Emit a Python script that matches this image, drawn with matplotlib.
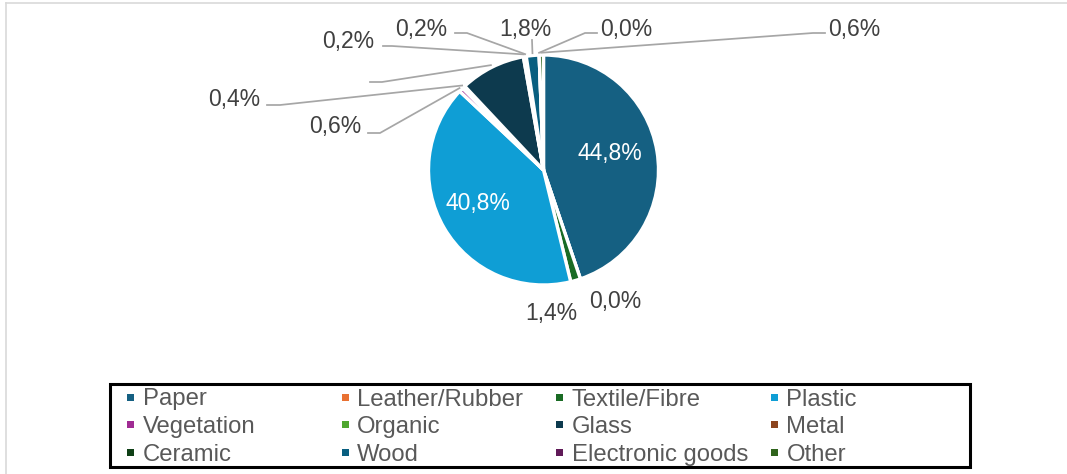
# waste composition pie, Excel-style layout
import matplotlib
matplotlib.use('Agg')
import numpy as np
import matplotlib.pyplot as plt
from matplotlib.patches import Rectangle

plt.rcParams['font.family'] = ['Liberation Sans', 'DejaVu Sans']

W, H = 1067, 474

categories = ['Paper', 'Leather/Rubber', 'Textile/Fibre', 'Plastic',
              'Vegetation', 'Organic', 'Glass', 'Metal',
              'Ceramic', 'Wood', 'Electronic goods', 'Other']
shares = [44.8, 0.0, 1.4, 40.8, 0.6, 0.4, 9.2, 0.2, 0.2, 1.8, 0.0, 0.6]
show_label = [True, True, True, True, True, True, False, True, True, True, True, True]
colors = ['#156082', '#E97132', '#196B24', '#0F9ED5', '#A02B93', '#4EA72E',
          '#0D3A4E', '#8C441E', '#0F4016', '#095F80', '#601A58', '#2F641C']

# label placement in image pixels (x centre, baseline), leader start + elbow
label_pos = [(609.5, 160), (615, 308), (551.5, 320), (477.5, 210),
             (335, 133), (234.5, 106), (None, None), (348.5, 47.5),
             (421, 35.5), (525, 35.5), (626.5, 35.5), (854, 35.5)]
leaders = [None, None, None, None,
           ((368, 133), (380, 133)), ((267, 105), (280, 105)),
           ((370, 82), (382, 82)), ((383, 46), (392, 46)),
           ((455, 33), (467, 33)), ((532, 40), (532, 40)),
           ((597, 33), (585, 33)), ((825, 33), (813, 33))]
inside = [0, 3]

fig = plt.figure(figsize=(W / 100, H / 100), dpi=100)
ax = fig.add_axes([0, 0, 1, 1])

cx, cy, R = 543.5, H - 170, 115
wedges, _ = ax.pie(shares, colors=colors, radius=R, center=(cx, cy),
                   startangle=90, counterclock=False,
                   wedgeprops=dict(edgecolor='white', linewidth=2.4))
ax.set_xlim(0, W)
ax.set_ylim(0, H)
ax.axis('off')

for i, w in enumerate(wedges):
    mid = np.deg2rad((w.theta1 + w.theta2) / 2)
    if leaders[i] is not None:
        (sx, sy), (ex, ey) = leaders[i]
        px = cx + 1.02 * R * np.cos(mid)
        py = cy + 1.02 * R * np.sin(mid)
        ax.plot([sx, ex, px], [H - sy, H - ey, py], color='#A6A6A6', lw=1.25,
                solid_joinstyle='miter')
    if show_label[i]:
        tx, ty = label_pos[i]
        txt = f'{shares[i]:.1f}%'.replace('.', ',')
        col = 'white' if i in inside else '#404040'
        ax.text(tx, H - ty, txt, ha='center', va='baseline', fontsize=16.5, color=col)

# legend, 4 equal columns like Excel
for i, (name, col) in enumerate(zip(categories, colors)):
    r, c = divmod(i, 4)
    mx = 130.6 + c * 214.6
    by = H - (405.5 + r * 27.8)
    ax.add_patch(Rectangle((mx - 3.5, by + 5), 7, 7, color=col, lw=0))
    ax.text(mx + 12, by, name, ha='left', va='baseline', fontsize=17.2, color='#595959')
ax.add_patch(Rectangle((110, H - 467), 860, 83, fill=False, edgecolor='black', lw=2.2))

# chart area border (only left and top visible)
ax.plot([5.5, 5.5], [0, H - 3], color='#D9D9D9', lw=1.2)
ax.plot([5.5, W], [H - 3, H - 3], color='#D9D9D9', lw=1.2)

fig.savefig('out.png', dpi=100)
